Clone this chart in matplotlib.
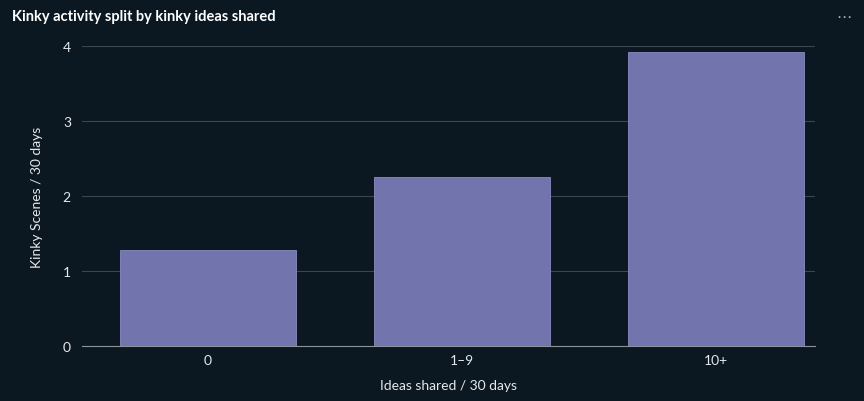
import matplotlib
matplotlib.use("Agg")
import matplotlib.pyplot as plt

categories = ["0", "1\u20139", "10+"]
values = [1.28, 2.25, 3.92]
yticks = [0, 1, 2, 3, 4]

bg = "#0b1822"
plt.rcParams['font.family'] = ['Lato', 'DejaVu Sans']

fig = plt.figure(figsize=(8.64, 4.02), dpi=100, facecolor=bg)
ax = fig.add_axes([82/864, 1-347/402, (815-82)/864, 300/402], facecolor=bg)

x = range(len(categories))
ax.bar(x, values, width=0.69, color="#7274ad", edgecolor="#8a8cc0", linewidth=0.6, zorder=3)
ax.set_xlim(-0.496, 2.39)
ax.set_ylim(0, 4)
ax.set_yticks(yticks)
ax.set_xticks(list(x))
ax.set_xticklabels(categories)
ax.grid(axis="y", color="#3a4650", linewidth=0.8, zorder=0)
for s in ["top", "right", "left"]:
    ax.spines[s].set_visible(False)
ax.spines["bottom"].set_color("#8a939a")
ax.tick_params(colors="#e6e8ea", labelsize=10, length=0, pad=8)
ax.tick_params(axis="x", pad=6)
ax.set_xlabel("Ideas shared / 30 days", color="#e6e8ea", fontsize=10, labelpad=9)
ax.set_ylabel("Kinky Scenes / 30 days", color="#e6e8ea", fontsize=10, labelpad=14)

fig.text(12/864, 1-17/402, "Kinky activity split by kinky ideas shared", color="white",
         fontsize=10.5, fontweight="bold", va="center")
fig.text(852/864, 1-17/402, "\u22ef", color="#b0b6bb", fontsize=11, va="center", ha="right",
         family=["DejaVu Sans"])

fig.savefig("out.png", dpi=100, facecolor=bg)
